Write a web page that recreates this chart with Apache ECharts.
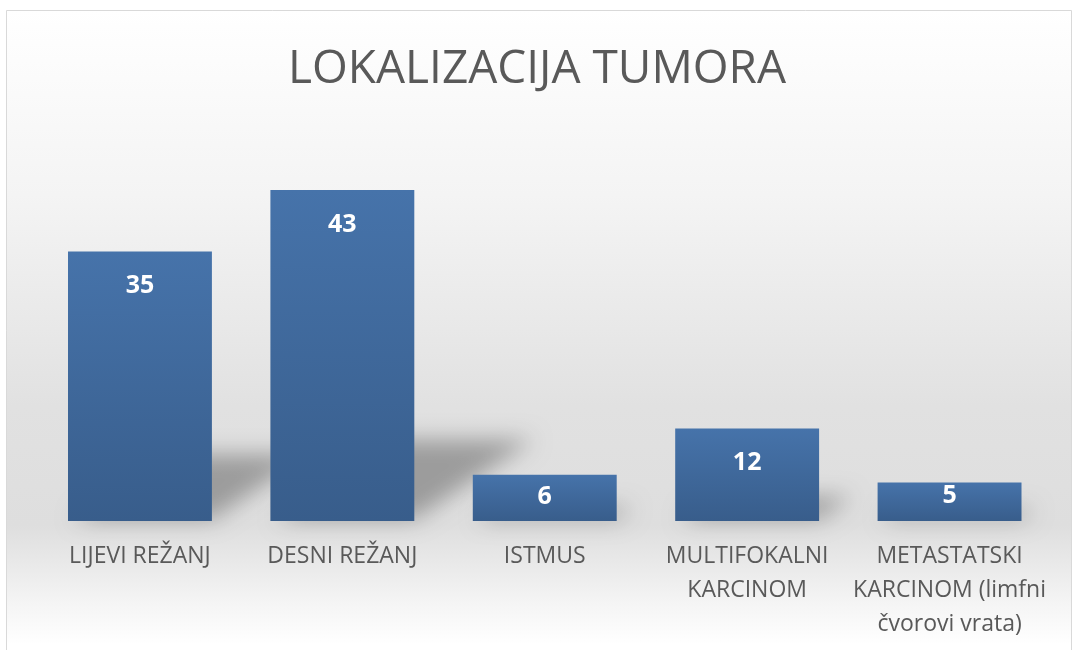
<!DOCTYPE html>
<html>
<head>
<meta charset="utf-8">
<script src="https://cdn.jsdelivr.net/npm/echarts@6/dist/echarts.min.js"></script>
<style>
html,body{margin:0;padding:0;background:#ffffff;}
#chart{width:1073px;height:650px;}
</style>
</head>
<body>
<div id="chart"></div>
<script>
var titleText = 'LOKALIZACIJA TUMORA';
var categories = ['LIJEVI REŽANJ', 'DESNI REŽANJ', 'ISTMUS', 'MULTIFOKALNI\nKARCINOM', 'METASTATSKI\nKARCINOM (limfni\nčvorovi vrata)'];
var values = [35, 43, 6, 12, 5];

var chart = echarts.init(document.getElementById('chart'), null, {renderer: 'canvas'});

function labelDist(v) {
  var px = v * 7.7;
  return Math.max(-2, Math.min(22, (px - 40) * 1.1 + 3));
}

var barData = values.map(function (v) {
  return {
    value: v,
    label: { distance: labelDist(v) }
  };
});

var shadowData = values.map(function (v, i) { return [i, v]; });
var SHIFT = 3000;

var option = {
  animation: false,
  title: {
    text: titleText,
    left: 532,
    textAlign: 'center',
    top: 42,
    textStyle: {
      fontFamily: 'Open Sans',
      fontWeight: 'normal',
      fontSize: 46,
      color: '#595959'
    }
  },
  graphic: [{
    type: 'rect',
    z: -100,
    silent: true,
    shape: { x: 6.5, y: 10.5, width: 1065, height: 660 },
    style: {
      fill: {
        type: 'linear', x: 0, y: 0, x2: 0, y2: 1,
        colorStops: [
          { offset: 0, color: '#ffffff' },
          { offset: 0.28, color: '#f4f4f4' },
          { offset: 0.6, color: '#e1e1e1' },
          { offset: 0.78, color: '#dedede' },
          { offset: 0.9, color: '#f5f5f5' },
          { offset: 0.96, color: '#ffffff' },
          { offset: 1, color: '#ffffff' }
        ]
      },
      stroke: '#d9d9d9',
      lineWidth: 1
    }
  }],
  grid: { left: 38.75, right: 22.25, top: 136, bottom: 129 },
  xAxis: {
    type: 'category',
    data: categories,
    axisLine: { show: false },
    axisTick: { show: false },
    splitLine: { show: false },
    axisLabel: {
      interval: 0,
      margin: 18,
      fontFamily: 'Open Sans',
      fontSize: 23,
      lineHeight: 34,
      color: '#595959',
      align: 'center'
    }
  },
  yAxis: {
    type: 'value',
    min: 0,
    max: 50,
    show: false,
    splitLine: { show: false }
  },
  series: [{
    type: 'custom',
    z: 1,
    silent: true,
    clip: false,
    data: shadowData,
    encode: { x: 0, y: 1 },
    renderItem: function (params, api) {
      var idx = api.value(0);
      var v = api.value(1);
      var p = api.coord([idx, 0]);
      var sz = api.size([1, v]);
      var bw = sz[0] * 0.711;
      var h = sz[1];
      var x0 = p[0] - bw / 2 + SHIFT, x1 = p[0] + bw / 2 + SHIFT, yb = p[1] - 2;
      var k = 0.24, s = 0.36;
      return {
        type: 'polygon',
        shape: {
          points: [[x0 + 6, yb], [x1, yb], [x1 + s * h, yb - k * h], [x0 + s * h, yb - k * h]]
        },
        style: {
          fill: '#000000',
          shadowBlur: 22,
          shadowOffsetX: -SHIFT,
          shadowOffsetY: 0,
          shadowColor: 'rgba(0,0,0,0.30)'
        }
      };
    }
  }, {
    type: 'bar',
    z: 3,
    data: barData,
    barWidth: '71.1%',
    itemStyle: {
      color: {
        type: 'linear', x: 0, y: 0, x2: 0, y2: 1,
        colorStops: [
          { offset: 0, color: '#4673aa' },
          { offset: 1, color: '#385d8b' }
        ]
      }
    },
    label: {
      show: true,
      position: 'insideTop',
      fontFamily: 'Open Sans',
      fontWeight: 'bold',
      fontSize: 25,
      color: '#ffffff'
    }
  }]
};

chart.setOption(option);
</script>
</body>
</html>
